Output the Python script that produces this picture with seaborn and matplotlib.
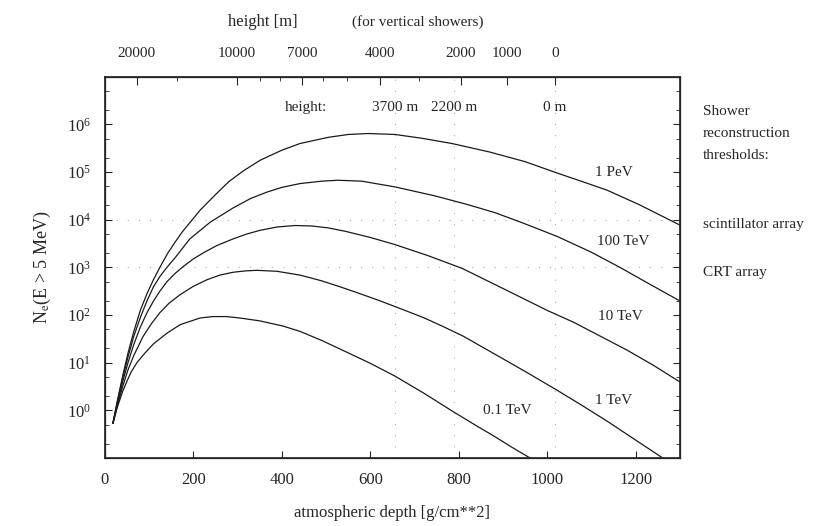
import numpy as np
import pandas as pd
import matplotlib
matplotlib.use("Agg")
import matplotlib.pyplot as plt
import matplotlib.ticker as mticker
import seaborn as sns

# shower size curves: depth [g/cm**2] and log10(Ne)
depth_1pev = [18, 28, 40, 52, 65, 80, 95, 110, 124, 142, 160, 176, 192, 215, 249, 280, 312, 351, 400, 441, 505, 550,
              595, 656, 717, 785, 871, 950, 1023, 1080, 1136, 1210, 1300]
logne_1pev = [-0.27, 0.2, 0.72, 1.2, 1.65, 2.1, 2.45, 2.75, 3.0, 3.3, 3.55, 3.76, 3.94, 4.2, 4.52, 4.8, 5.02, 5.25, 5.46,
              5.60, 5.73, 5.79, 5.81, 5.79, 5.71, 5.60, 5.42, 5.22, 4.98, 4.8, 4.62, 4.31, 3.89]

depth_100tev = [18, 28, 40, 52, 65, 80, 95, 110, 125, 140, 160, 192, 238, 290, 330, 366, 400, 441, 490, 527, 581, 656,
                747, 820, 882, 946, 1023, 1100, 1165, 1230, 1300]
logne_100tev = [-0.27, 0.18, 0.68, 1.12, 1.55, 1.95, 2.3, 2.6, 2.82, 3.0, 3.22, 3.6, 3.95, 4.25, 4.45, 4.58, 4.68, 4.76,
                4.81, 4.83, 4.81, 4.69, 4.50, 4.32, 4.15, 3.93, 3.65, 3.32, 3.0, 2.66, 2.3]

depth_10tev = [18, 28, 40, 52, 65, 80, 95, 110, 124, 140, 158, 177, 200, 225, 253, 290, 320, 351, 390, 430, 468, 505,
               543, 600, 656, 730, 808, 900, 1000, 1060, 1120, 1180, 1240, 1300]
logne_10tev = [-0.27, 0.15, 0.6, 1.0, 1.38, 1.75, 2.05, 2.3, 2.5, 2.7, 2.87, 3.02, 3.18, 3.32, 3.46, 3.6, 3.7, 3.78,
               3.85, 3.88, 3.87, 3.83, 3.76, 3.63, 3.48, 3.25, 2.98, 2.56, 2.1, 1.85, 1.56, 1.27, 0.95, 0.6]

depth_1tev = [18, 28, 40, 52, 65, 86, 105, 124, 145, 170, 199, 230, 260, 290, 320, 344, 389, 441, 490, 530, 580, 622,
              670, 720, 765, 810, 882, 950, 1018, 1080, 1140, 1200, 1262]
logne_1tev = [-0.27, 0.1, 0.5, 0.85, 1.15, 1.55, 1.82, 2.05, 2.25, 2.43, 2.6, 2.74, 2.84, 2.9, 2.93, 2.94, 2.92, 2.84,
              2.72, 2.6, 2.44, 2.3, 2.13, 1.95, 1.76, 1.56, 1.18, 0.82, 0.45, 0.1, -0.25, -0.62, -1.0]

depth_01tev = [18, 28, 40, 50, 60, 72, 90, 110, 140, 170, 215, 244, 275, 305, 350, 403, 441, 490, 543, 600, 656, 720,
               785, 840, 882, 920, 962]
logne_01tev = [-0.27, 0.07, 0.4, 0.62, 0.82, 1.0, 1.2, 1.4, 1.62, 1.8, 1.94, 1.97, 1.97, 1.94, 1.88, 1.77, 1.66, 1.47,
               1.24, 0.99, 0.72, 0.37, -0.01, -0.32, -0.55, -0.77, -1.0]

energies = ["1 PeV", "100 TeV", "10 TeV", "1 TeV", "0.1 TeV"]

# top axis: height for vertical showers and matching depth
top_heights = ["20000", "10000", "7000", "4000", "2000", "1000", "0"]
top_depths = [72, 299, 446, 622, 805, 909, 1018]
top_minor_depths = [163, 351, 395, 493, 548, 710]

# marked site heights and detector thresholds
site_labels = ["3700 m", "2200 m", "0 m"]
site_depths = [656, 790, 1018]
thresholds = [1e4, 1e3]
threshold_labels = ["scintillator array", "CRT array"]

sns.set_theme(style="ticks")
plt.rcParams["font.family"] = ["Liberation Serif", "DejaVu Serif"]
plt.rcParams["mathtext.fontset"] = "stix"

rows = []
for name, d, l in zip(energies,
                      [depth_1pev, depth_100tev, depth_10tev, depth_1tev, depth_01tev],
                      [logne_1pev, logne_100tev, logne_10tev, logne_1tev, logne_01tev]):
    for x, y in zip(d, l):
        rows.append((name, x, 10 ** y))
df = pd.DataFrame(rows, columns=["energy", "depth", "Ne"])

fig = plt.figure(figsize=(8.2, 5.26), dpi=100)
ax = fig.add_axes([0.128, 0.129, 0.701, 0.725])

sns.lineplot(data=df, x="depth", y="Ne", units="energy", estimator=None,
             color="#1a1a1a", lw=0.9, ax=ax, sort=False)

ax.set_yscale("log")
ax.set_xlim(0, 1300)
ax.set_ylim(0.1, 1e7)

# faint dotted guide lines
for t in thresholds:
    ax.axhline(t, color="#b0b0b0", lw=0.8, ls=(0, (1, 9)), zorder=0)
for d in site_depths:
    ax.axvline(d, color="#b0b0b0", lw=0.8, ls=(0, (1, 9)), zorder=0)

ax.xaxis.set_major_locator(mticker.FixedLocator([0, 200, 400, 600, 800, 1000, 1200]))
ax.yaxis.set_major_locator(mticker.FixedLocator([1e0, 1e1, 1e2, 1e3, 1e4, 1e5, 1e6]))
ax.yaxis.set_major_formatter(mticker.LogFormatterMathtext())
ax.yaxis.set_minor_locator(mticker.LogLocator(base=10, subs=(2, 5)))
ax.yaxis.set_minor_formatter(mticker.NullFormatter())
ax.tick_params(axis="both", which="major", direction="in", length=5, width=0.8,
               labelsize=12, right=True, pad=10)
ax.tick_params(axis="y", which="minor", direction="in", length=3, width=0.6, right=True)
ax.tick_params(axis="x", which="major", top=False)
for s in ax.spines.values():
    s.set_linewidth(0.9)
    s.set_color("#222222")

ax.set_xlabel("atmospheric depth [g/cm**2]", fontsize=12, labelpad=12)
ax.set_ylabel(r"N$_\mathrm{e}$(E > 5 MeV)", fontsize=13, labelpad=10)

# top height axis
top = ax.twiny()
top.set_xlim(ax.get_xlim())
top.xaxis.set_major_locator(mticker.FixedLocator(top_depths))
top.xaxis.set_major_formatter(mticker.FixedFormatter(top_heights))
top.xaxis.set_minor_locator(mticker.FixedLocator(top_minor_depths))
top.tick_params(axis="x", which="major", direction="in", length=6, width=0.8,
                labelsize=11, pad=12)
top.tick_params(axis="x", which="minor", direction="in", length=3, width=0.6)
fig.text(0.32, 0.958, "height [m]", fontsize=12, ha="center", va="center")
fig.text(0.51, 0.958, "(for vertical showers)", fontsize=11, ha="center", va="center")

# labels inside the plot
ax.text(455, 2.3e6, "height:", fontsize=11, ha="center", va="center")
for lab, d in zip(site_labels, site_depths):
    ax.text(d, 2.3e6, lab, fontsize=11, ha="center", va="center")

curve_label_x = [1150, 1172, 1165, 1150, 909]
curve_label_y = [1.0e5, 3.5e3, 93, 1.6, 0.98]
for lab, x, y in zip(energies, curve_label_x, curve_label_y):
    ax.text(x, y, lab, fontsize=11, ha="center", va="center")

# right-hand notes
tr = ax.get_yaxis_transform()
ax.text(1.04, 1.9e6, "Shower", transform=tr, fontsize=11, va="center")
ax.text(1.04, 6.5e5, "reconstruction", transform=tr, fontsize=11, va="center")
ax.text(1.04, 2.2e5, "thresholds:", transform=tr, fontsize=11, va="center")
for lab, t in zip(threshold_labels, thresholds):
    ax.text(1.04, t * 0.8, lab, transform=tr, fontsize=11, va="center")

ax.set_facecolor("white")
fig.savefig("out.png", dpi=100, facecolor="white")
